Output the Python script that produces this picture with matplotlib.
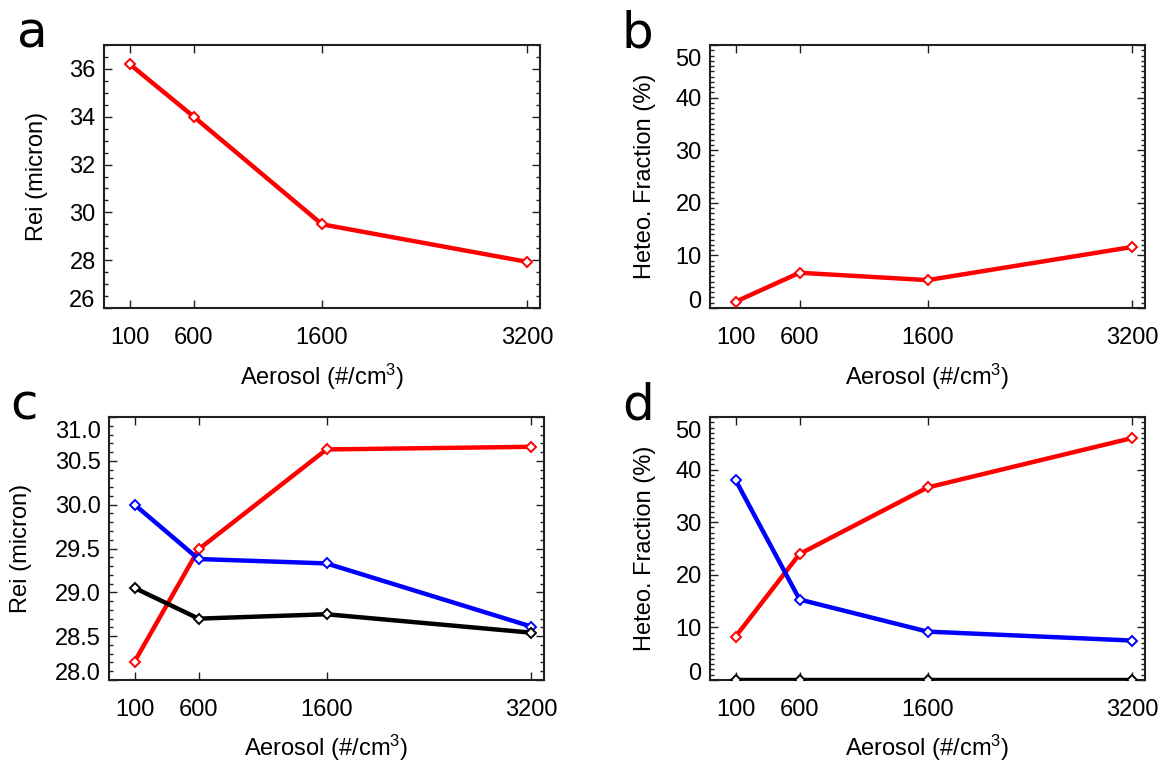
import numpy as np
import matplotlib
matplotlib.use('Agg')
import matplotlib.pyplot as plt
from matplotlib.ticker import MultipleLocator, FixedLocator
from matplotlib.transforms import ScaledTranslation

plt.rcParams['font.family'] = ['Liberation Sans', 'DejaVu Sans']
plt.rcParams['mathtext.default'] = 'regular'

# data
aerosol = [100, 600, 1600, 3200]
xtick_labels = ['100', '600', '1600', '3200']

rei_a = [36.2, 34.0, 29.5, 27.93]
het_b = [1.2, 6.7, 5.3, 11.6]

rei_c_red = [28.21, 29.49, 30.63, 30.66]
rei_c_blue = [30.0, 29.38, 29.33, 28.61]
rei_c_black = [29.05, 28.70, 28.75, 28.54]

het_d_red = [8.25, 23.95, 36.6, 46.0]
het_d_blue = [38.0, 15.3, 9.2, 7.5]
het_d_black = [0.0, 0.0, 0.0, 0.0]

W, H = 1172, 764
fig = plt.figure(figsize=(W / 100, H / 100), dpi=100)


def px_axes(left, top, right, bottom):
    return fig.add_axes([left / W, 1 - bottom / H, (right - left) / W, (bottom - top) / H])


def style(ax, ylim, major, minor, fmt, ylabel, ylab_x):
    ax.set_xlim(-100, 3300)
    ax.set_ylim(*ylim)
    ax.xaxis.set_major_locator(FixedLocator(aerosol))
    ax.set_xticklabels(xtick_labels)
    ax.yaxis.set_major_locator(MultipleLocator(major))
    ax.yaxis.set_minor_locator(MultipleLocator(minor))
    ax.yaxis.set_major_formatter(fmt)
    for s in ax.spines.values():
        s.set_linewidth(1.5)
        s.set_color('#202020')
    ax.tick_params(which='both', direction='in', top=True, right=True,
                   color='#202020', width=1.0, labelsize=17)
    ax.tick_params(which='major', length=5.5)
    ax.tick_params(which='minor', length=2.6)
    ax.tick_params(axis='x', pad=14)
    ax.tick_params(axis='y', pad=6)
    ax.set_xlabel('Aerosol (#/cm$^3$)', fontsize=17, va='center')
    ax.xaxis.set_label_coords(0.5, -0.262)
    ax.set_ylabel(ylabel, fontsize=17, va='center')
    ax.yaxis.set_label_coords(ylab_x, 0.5)


def shift_edge_labels(ax, bottom=None, top=None):
    ticks = ax.yaxis.get_major_ticks()
    locs = ax.yaxis.get_majorticklocs()
    lo, hi = ax.get_ylim()
    for t, v in zip(ticks, locs):
        if bottom is not None and abs(v - lo) < 1e-6:
            t.label1.set_transform(t.label1.get_transform() +
                                   ScaledTranslation(0, bottom / 100, fig.dpi_scale_trans))
        if top is not None and abs(v - hi) < 1e-6:
            t.label1.set_transform(t.label1.get_transform() +
                                   ScaledTranslation(0, -top / 100, fig.dpi_scale_trans))


def line(ax, y, color):
    ax.plot(aerosol, y, color=color, lw=3.2, marker='D', ms=5.5, mew=1.4,
            mfc='white', mec=color, zorder=3)


ax_a = px_axes(104, 45, 540, 308)
ax_b = px_axes(710, 45, 1145, 308)
ax_c = px_axes(109, 417, 544, 680)
ax_d = px_axes(710, 417, 1145, 680)

line(ax_a, rei_a, 'red')
style(ax_a, (26, 37), 2, 0.5, '{x:.0f}', 'Rei (micron)', -0.154)

line(ax_b, het_b, 'red')
style(ax_b, (0, 50), 10, 1, '{x:.0f}', 'Heteo. Fraction (%)', -0.15)

line(ax_c, rei_c_red, 'red')
line(ax_c, rei_c_blue, 'blue')
line(ax_c, rei_c_black, 'black')
style(ax_c, (28, 31.0), 0.5, 0.1, '{x:.1f}', 'Rei (micron)', -0.202)
ax_c.xaxis.set_label_coords(0.5, -0.259)

line(ax_d, het_d_red, 'red')
line(ax_d, het_d_blue, 'blue')
line(ax_d, het_d_black, 'black')
style(ax_d, (0, 50), 10, 1, '{x:.0f}', 'Heteo. Fraction (%)', -0.15)
ax_d.xaxis.set_label_coords(0.5, -0.259)

shift_edge_labels(ax_a, bottom=9)
shift_edge_labels(ax_b, bottom=8, top=12)
shift_edge_labels(ax_c, bottom=8, top=13)
shift_edge_labels(ax_d, bottom=8, top=12)

# panel letters
for txt, x, y in [('a', 17, 47), ('b', 622, 47), ('c', 10, 420), ('d', 622, 419)]:
    fig.text(x / W, 1 - y / H, txt, fontsize=36, family='DejaVu Sans',
             ha='left', va='baseline')

fig.savefig('out.png', dpi=100)
